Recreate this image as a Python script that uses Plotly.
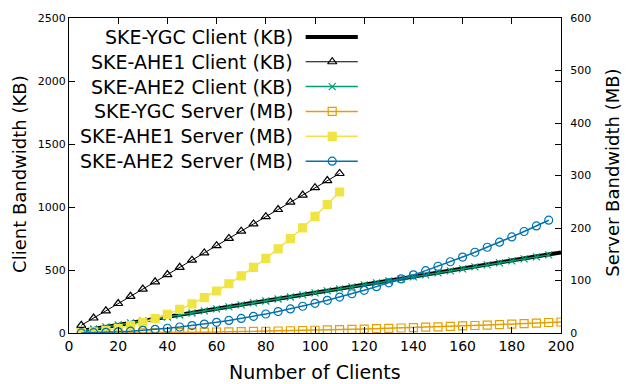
import plotly.graph_objects as go

# number of clients
clients_all = [5, 10, 15, 20, 25, 30, 35, 40, 45, 50, 55, 60, 65, 70, 75, 80, 85, 90, 95, 100,
               105, 110, 115, 120, 125, 130, 135, 140, 145, 150, 155, 160, 165, 170, 175, 180,
               185, 190, 195, 200]
clients_195 = clients_all[:-1]
clients_110 = clients_all[:22]

# client bandwidth (KB)
ygc_client = [16, 32, 48, 64, 80, 96, 112, 128, 144, 160, 176, 192, 208, 224, 240, 256, 272, 288,
              304, 320, 336, 352, 368, 384, 400, 416, 432, 448, 464, 480, 496, 512, 528, 544, 560,
              576, 592, 608, 624, 640]
ahe1_client = [61, 119, 176, 234, 291, 349, 406, 464, 521, 578, 636, 693, 751, 808, 866, 923, 980,
               1038, 1095, 1153, 1210, 1266]
ahe2_client = [16, 32, 48, 64, 80, 95, 111, 127, 143, 159, 175, 191, 207, 223, 239, 254, 270, 286,
               302, 318, 334, 350, 366, 382, 398, 413, 429, 445, 461, 477, 493, 509, 525, 541, 557,
               572, 588, 604, 620]

# server bandwidth (MB)
ygc_server = [0.01, 0.05, 0.12, 0.21, 0.33, 0.47, 0.64, 0.84, 1.06, 1.31, 1.59, 1.89, 2.22, 2.57,
              2.95, 3.36, 3.79, 4.25, 4.74, 5.25, 5.79, 6.35, 6.94, 7.56, 8.2, 8.87, 9.57, 10.29,
              11.04, 11.81, 12.61, 13.44, 14.29, 15.17, 16.08, 17.01, 17.97, 18.95, 19.96, 21.0]
ahe1_server = [0.6, 2.2, 5.0, 8.9, 13.9, 20.0, 27.2, 35.5, 45.0, 55.5, 67.2, 80.0, 93.8, 108.8,
               124.9, 142.0, 160.4, 179.8, 200.4, 222.0, 244.8, 268.6]
ahe2_server = [0.14, 0.57, 1.27, 2.26, 3.53, 5.09, 6.92, 9.04, 11.44, 14.13, 17.09, 20.34, 23.87,
               27.69, 31.78, 36.16, 40.82, 45.77, 50.99, 56.5, 62.29, 68.37, 74.72, 81.36, 88.28,
               95.49, 102.97, 110.74, 118.79, 127.13, 135.74, 144.64, 153.82, 163.29, 173.03,
               183.06, 193.37, 203.97, 214.84]

FONT = "DejaVu Sans"
GREEN, ORANGE, YELLOW, BLUE = "#009E73", "#E69F00", "#F0E442", "#0072B2"

# name, colour, line width, symbol (None = plain line), marker size
series = [
    ("SKE-YGC Client (KB)", "black", 4, None, 0),
    ("SKE-AHE1 Client (KB)", "black", 1, "triangle-up-open", 8),
    ("SKE-AHE2 Client (KB)", GREEN, 1.5, "x-thin-open", 7),
    ("SKE-YGC Server (MB)", ORANGE, 1.5, "square-open", 8),
    ("SKE-AHE1 Server (MB)", YELLOW, 1.5, "square", 8),
    ("SKE-AHE2 Server (MB)", BLUE, 1.5, "circle-open", 8),
]
data = [
    (clients_all, ygc_client, "y"),
    (clients_110, ahe1_client, "y"),
    (clients_195, ahe2_client, "y"),
    (clients_all, ygc_server, "y2"),
    (clients_110, ahe1_server, "y2"),
    (clients_195, ahe2_server, "y2"),
]

fig = go.Figure()
for (name, color, width, symbol, msize), (xs, ys, yax) in zip(series, data):
    fig.add_trace(go.Scatter(
        x=xs, y=ys, yaxis=yax, name=name, showlegend=False,
        mode="lines" if symbol is None else "lines+markers",
        line=dict(color=color, width=width),
        marker=dict(symbol=symbol or "circle", size=msize or 1, color=color,
                    line=dict(color=color, width=1.2)),
    ))

# hand-made legend: text right-aligned, sample on the right (gnuplot style)
row_y0, row_step = 0.940, 0.0789
text_x, line_x0, line_x1, mark_x = 0.459, 0.481, 0.587, 0.535
annotations = []
shapes = []
for i, (name, color, width, symbol, msize) in enumerate(series):
    yy = row_y0 - i * row_step
    annotations.append(dict(x=text_x, y=yy, xref="paper", yref="paper", text=name,
                            showarrow=False, xanchor="right", yanchor="middle",
                            font=dict(family=FONT, size=19, color="black")))
    shapes.append(dict(type="line", xref="paper", yref="paper", x0=line_x0, x1=line_x1,
                       y0=yy, y1=yy, line=dict(color=color, width=width)))
    if symbol:
        fig.add_trace(go.Scatter(
            x=[mark_x], y=[yy], xaxis="x3", yaxis="y3", mode="markers", showlegend=False,
            hoverinfo="skip",
            marker=dict(symbol=symbol, size=msize, color=color, line=dict(color=color, width=1.2)),
        ))

annotations += [
    dict(x=0.5, y=-0.123, xref="paper", yref="paper", text="Number of Clients", showarrow=False,
         yanchor="middle", font=dict(family=FONT, size=19, color="black")),
    dict(x=-0.0996, y=0.505, xref="paper", yref="paper", text="Client Bandwidth (KB)",
         showarrow=False, textangle=-90, xanchor="center", yanchor="middle",
         font=dict(family=FONT, size=18, color="black")),
    dict(x=1.105, y=0.508, xref="paper", yref="paper", text="Server Bandwidth (MB)",
         showarrow=False, textangle=-90, xanchor="center", yanchor="middle",
         font=dict(family=FONT, size=18, color="black")),
]

axis_common = dict(showgrid=False, zeroline=False, ticks="inside", ticklen=6, tickcolor="black",
                   linecolor="black", linewidth=1, showline=True)

fig.update_layout(
    width=640, height=384,
    margin=dict(l=69, r=79, t=16, b=51),
    paper_bgcolor="white", plot_bgcolor="white",
    font=dict(family=FONT, color="black"),
    xaxis=dict(range=[0, 200], dtick=20, mirror="ticks", tickfont=dict(size=14), **axis_common),
    yaxis=dict(range=[0, 2500], dtick=500, mirror="ticks", tickfont=dict(size=11), **axis_common),
    yaxis2=dict(range=[0, 600], dtick=100, overlaying="y", side="right", ticklabelstandoff=6,
                tickfont=dict(size=11), **axis_common),
    xaxis3=dict(range=[0, 1], overlaying="x", visible=False),
    yaxis3=dict(range=[0, 1], overlaying="y", visible=False),
    annotations=annotations,
    shapes=shapes,
)

# drop the browser's default 8px body margin so the figure sits at the window corner
fig.write_html("out.html", config={"displayModeBar": False},
               post_script="document.body.style.margin='0';")
